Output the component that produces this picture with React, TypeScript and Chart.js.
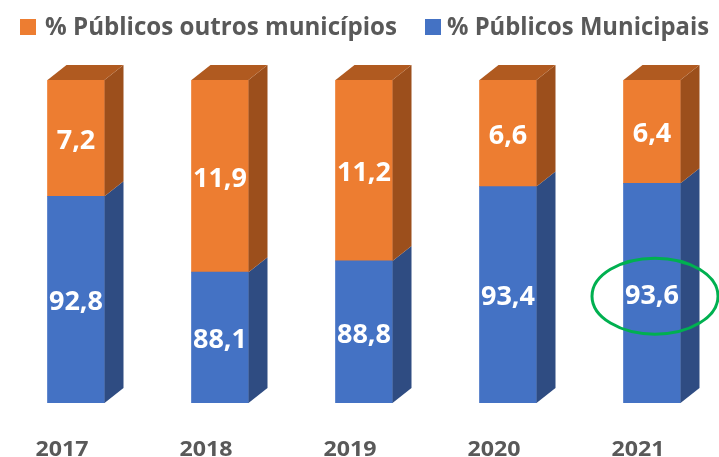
import React, { useEffect, useRef } from "react";
import { Chart, registerables } from "chart.js";

Chart.register(...registerables);

const labels = ["2017", "2018", "2019", "2020", "2021"];
const municipais = [92.8, 88.1, 88.8, 93.4, 93.6];
const outros = [7.2, 11.9, 11.2, 6.6, 6.4];
const legendLabels = ["% Públicos outros municípios", "% Públicos Municipais"];
const highlightIndex = 4;

const BLUE = "#4472C4";
const BLUE_SIDE = "#2F4C82";
const ORANGE = "#ED7D31";
const ORANGE_SIDE = "#9C4F1C";
const ORANGE_TOP = "#B05A20";
const GREY = "#595959";
const FONT = "'Open Sans', 'DejaVu Sans', sans-serif";

const fmt = (v: number) => v.toFixed(1).replace(".", ",");

function fitText(ctx: CanvasRenderingContext2D, text: string, x: number, y: number, size: number, targetW: number | null, align: "left" | "center") {
  ctx.save();
  ctx.font = `bold ${size}px ${FONT}`;
  const w = ctx.measureText(text).width;
  const sx = targetW ? Math.min(1.15, targetW / w) : 1;
  const drawW = w * sx;
  const left = align === "center" ? x - drawW / 2 : x;
  ctx.translate(left, y);
  ctx.scale(sx, 1);
  ctx.textAlign = "left";
  ctx.textBaseline = "alphabetic";
  ctx.fillText(text, 0, 0);
  ctx.restore();
}

const bar3dPlugin = {
  id: "bar3d",
  afterDatasetsDraw(chart: any) {
    const ctx: CanvasRenderingContext2D = chart.ctx;
    const area = chart.chartArea;
    const dx = 19;
    const dy = 15;
    const sides = [BLUE_SIDE, ORANGE_SIDE];
    const nData = chart.data.labels.length;
    const segs: any[][] = [[], []];
    for (let d = 0; d < 2; d++) {
      const meta = chart.getDatasetMeta(d);
      for (let i = 0; i < nData; i++) {
        const el = meta.data[i];
        const p = el.getProps(["x", "y", "base", "width"], true);
        const top = Math.max(Math.min(p.y, p.base), area.top);
        const bottom = Math.min(Math.max(p.y, p.base), area.bottom);
        const xl = p.x - p.width / 2;
        const xr = p.x + p.width / 2;
        segs[d][i] = { x: p.x, xl, xr, top, bottom };
        ctx.save();
        ctx.fillStyle = sides[d];
        ctx.beginPath();
        ctx.moveTo(xr, top);
        ctx.lineTo(xr + dx, top - dy);
        ctx.lineTo(xr + dx, bottom - dy);
        ctx.lineTo(xr, bottom);
        ctx.closePath();
        ctx.fill();
        ctx.restore();
        if (d === 1) {
          ctx.save();
          ctx.fillStyle = ORANGE_TOP;
          ctx.beginPath();
          ctx.moveTo(xl, top);
          ctx.lineTo(xl + dx, top - dy);
          ctx.lineTo(xr + dx, top - dy);
          ctx.lineTo(xr, top);
          ctx.closePath();
          ctx.fill();
          ctx.restore();
        }
      }
    }
    // value labels
    const size = 27;
    const cap = size * 0.714;
    ctx.fillStyle = "#FFFFFF";
    for (let d = 0; d < 2; d++) {
      const data = chart.data.datasets[d].data;
      for (let i = 0; i < nData; i++) {
        const s = segs[d][i];
        const cy = (s.top + s.bottom) / 2;
        ctx.fillStyle = "#FFFFFF";
        fitText(ctx, fmt(data[i]), s.x, cy + cap / 2 + 1, size, null, "center");
      }
    }
    // highlight ellipse
    const s = segs[0][highlightIndex];
    const cy = (s.top + s.bottom) / 2;
    ctx.save();
    ctx.strokeStyle = "#00B050";
    ctx.lineWidth = 3;
    ctx.beginPath();
    ctx.ellipse(s.x + 3, cy + 3, 63, 38, 0, 0, Math.PI * 2);
    ctx.stroke();
    ctx.restore();
  },
  afterDraw(chart: any) {
    const ctx: CanvasRenderingContext2D = chart.ctx;
    const xs = chart.scales.x;
    ctx.fillStyle = GREY;
    chart.data.labels.forEach((lab: string, i: number) => {
      const x = xs.getPixelForTick(i) - 14;
      fitText(ctx, lab, x, 456, 22, 53, "center");
    });
    // legend
    const items = [
      { text: legendLabels[0], color: ORANGE, box: 20, tx: 45, w: 352 },
      { text: legendLabels[1], color: BLUE, box: 425, tx: 447, w: 262 },
    ];
    items.forEach((it) => {
      ctx.fillStyle = it.color;
      ctx.fillRect(it.box, 19, 16, 16);
      ctx.fillStyle = GREY;
      fitText(ctx, it.text, it.tx, 35, 25, it.w, "left");
    });
  },
};

export default function App() {
  const ref = useRef<HTMLCanvasElement | null>(null);
  useEffect(() => {
    if (!ref.current) return;
    const chart = new Chart(ref.current, {
      type: "bar",
      data: {
        labels,
        datasets: [
          {
            label: legendLabels[1],
            data: municipais,
            backgroundColor: BLUE,
            borderWidth: 0,
            barThickness: 57,
            clip: { left: false, right: false, top: 0, bottom: 0 } as any,
          },
          {
            label: legendLabels[0],
            data: outros,
            backgroundColor: ORANGE,
            borderWidth: 0,
            barThickness: 57,
            clip: { left: false, right: false, top: 0, bottom: 0 } as any,
          },
        ],
      },
      options: {
        animation: false,
        responsive: true,
        maintainAspectRatio: false,
        layout: { padding: { left: 76, right: 67, top: 80, bottom: 54 } },
        plugins: { legend: { display: false }, tooltip: { enabled: false } },
        scales: {
          x: { stacked: true, display: false, offset: false, grid: { display: false } },
          y: { stacked: true, display: false, min: 80, max: 100 },
        },
      },
      plugins: [bar3dPlugin],
    });
    return () => chart.destroy();
  }, []);
  return (
    <div style={{ position: "absolute", left: 0, top: 0, width: 719, height: 457, background: "#fff" }}>
      <canvas ref={ref} />
    </div>
  );
}
